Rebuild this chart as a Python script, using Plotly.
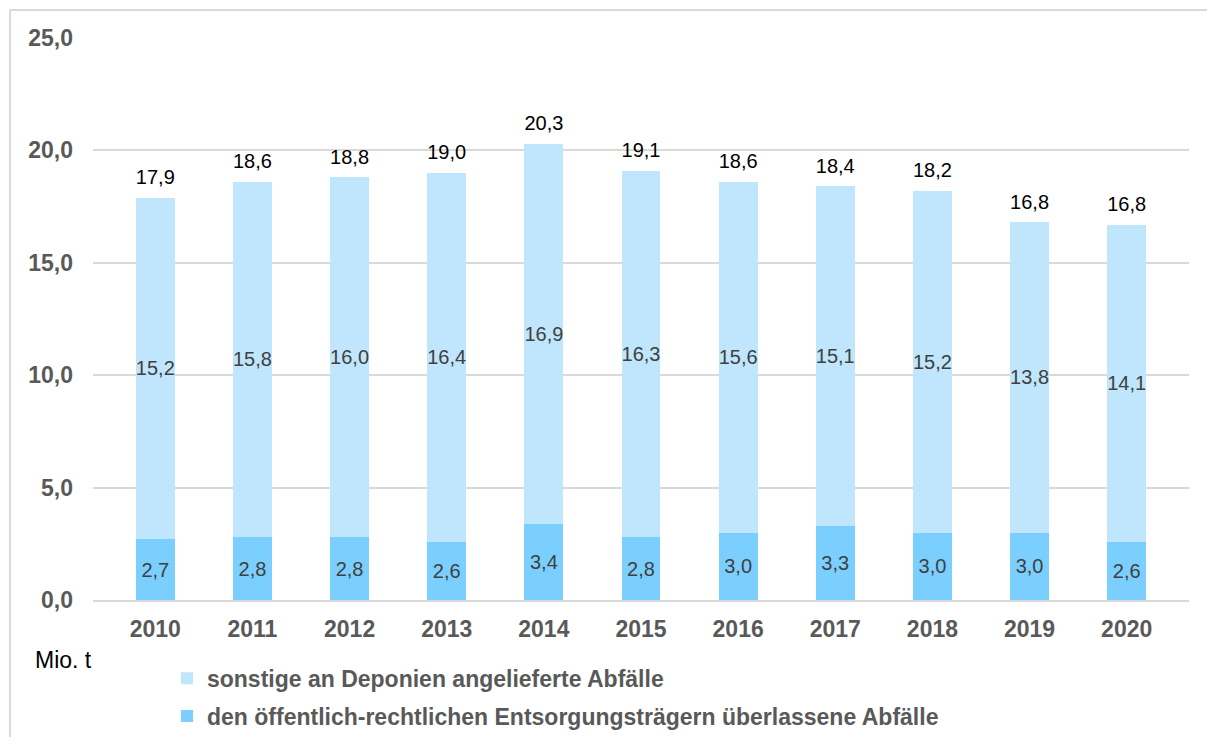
import plotly.graph_objects as go

years = ["2010", "2011", "2012", "2013", "2014", "2015", "2016", "2017", "2018", "2019", "2020"]
oere = [2.7, 2.8, 2.8, 2.6, 3.4, 2.8, 3.0, 3.3, 3.0, 3.0, 2.6]
sonstige = [15.2, 15.8, 16.0, 16.4, 16.9, 16.3, 15.6, 15.1, 15.2, 13.8, 14.1]
totals = [17.9, 18.6, 18.8, 19.0, 20.3, 19.1, 18.6, 18.4, 18.2, 16.8, 16.8]
tops = [a + b for a, b in zip(oere, sonstige)]

name_oere = "den öffentlich-rechtlichen Entsorgungsträgern überlassene Abfälle"
name_sonst = "sonstige an Deponien angelieferte Abfälle"

FONT = "Arial, Liberation Sans, sans-serif"
GREY = "#595959"


def fmt(v):
    return f"{v:.1f}".replace(".", ",")


fig = go.Figure()
fig.add_trace(go.Bar(
    x=years, y=oere, name=name_oere, legendgroup="a", legendrank=2,
    marker=dict(color="#7acffe", line=dict(width=0)),
    text=[fmt(v) for v in oere], textposition="inside",
    insidetextanchor="middle", textangle=0, constraintext="none",
    textfont=dict(family=FONT, size=20, color="#404040"),
    hoverinfo="skip",
))
fig.add_trace(go.Bar(
    x=years, y=sonstige, name=name_sonst, legendgroup="b", legendrank=1,
    marker=dict(color="#bfe6fd", line=dict(width=0)),
    text=[fmt(v) for v in sonstige], textposition="inside",
    insidetextanchor="middle", textangle=0, constraintext="none",
    textfont=dict(family=FONT, size=20, color="#404040"),
    hoverinfo="skip",
))

# totals above the stacks (invisible marker only sets the gap)
fig.add_trace(go.Scatter(
    x=years, y=tops, mode="markers+text",
    text=[fmt(v) for v in totals], textposition="top center",
    marker=dict(size=12, opacity=0),
    textfont=dict(family=FONT, size=20, color="#000000"),
    showlegend=False, hoverinfo="skip",
))

fig.add_annotation(
    xref="paper", yref="paper", x=-0.055, y=-0.107,
    text="Mio. t", showarrow=False, xanchor="left", yanchor="middle",
    font=dict(family=FONT, size=23, color="#000000"),
)

# chart frame (only top and left edges are inside the window)
frame = dict(color="#d9d9d9", width=2)
fig.add_shape(type="line", xref="paper", yref="paper",
              x0=-0.0757, y0=1.0498, x1=1.2, y1=1.0498, line=frame, layer="below")
fig.add_shape(type="line", xref="paper", yref="paper",
              x0=-0.0757, y0=-0.5, x1=-0.0757, y1=1.0498, line=frame, layer="below")

fig.update_layout(
    barmode="stack",
    bargap=0.6,
    width=1199, height=729,
    margin=dict(l=85, r=18, t=30, b=137, autoexpand=False),
    plot_bgcolor="white", paper_bgcolor="white",
    font=dict(family=FONT, color=GREY),
    separators=",.",
    legend=dict(
        orientation="v", x=0.0675, y=-0.101, xanchor="left", yanchor="top",
        font=dict(family=FONT, size=23, color=GREY, weight="bold"),
        bgcolor="rgba(0,0,0,0)", itemwidth=30, tracegroupgap=5,
        traceorder="grouped",
    ),
    xaxis=dict(
        type="category",
        tickfont=dict(family=FONT, size=23, color=GREY, weight="bold"),
        showgrid=False, showline=True, linecolor="#d9d9d9", linewidth=1.5,
        ticks="", ticklabelstandoff=8,
    ),
    yaxis=dict(
        range=[0, 25], dtick=5, tickformat=".1f",
        tickfont=dict(family=FONT, size=23, color=GREY, weight="bold"),
        showgrid=True, gridcolor="#d9d9d9", gridwidth=1.5,
        zeroline=False, showline=False, ticks="", ticklabelstandoff=19,
    ),
)

fig.write_html("out.html")
